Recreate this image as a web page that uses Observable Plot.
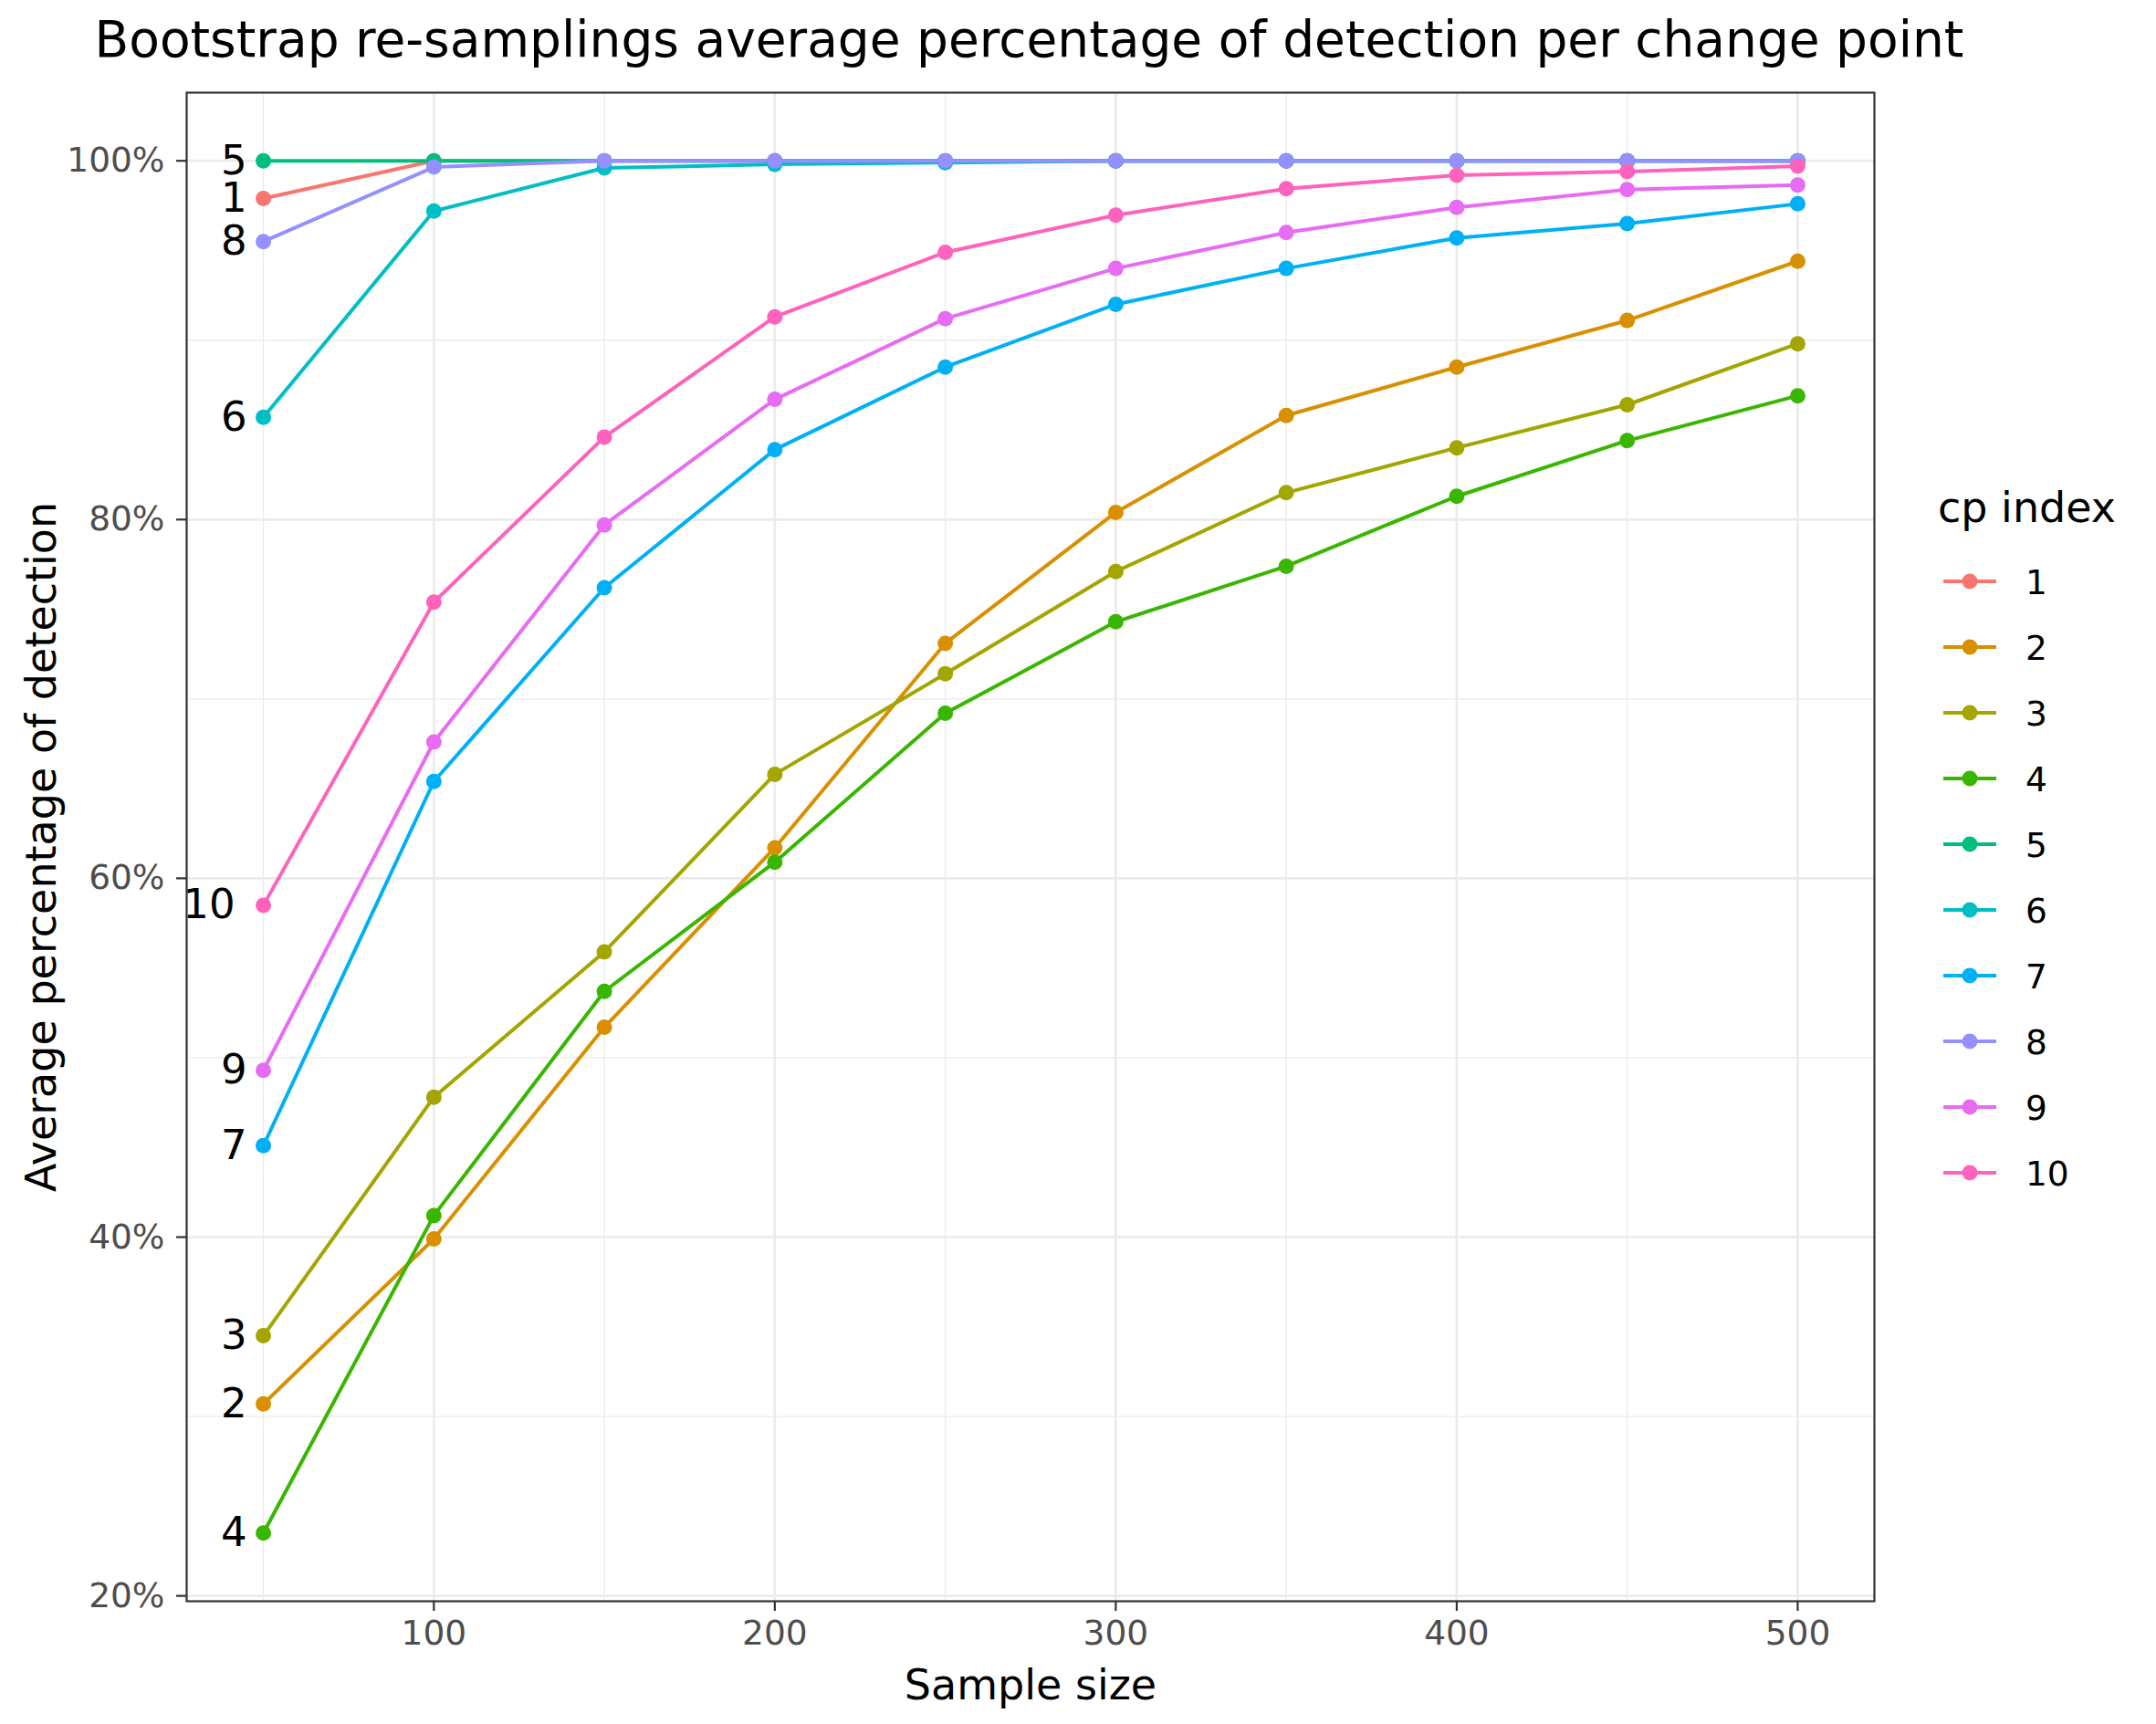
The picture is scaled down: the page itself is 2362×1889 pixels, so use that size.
<!DOCTYPE html>
<html>
<head>
<meta charset="utf-8">
<script src="https://cdn.jsdelivr.net/npm/d3@7"></script>
<script src="https://cdn.jsdelivr.net/npm/@observablehq/plot@0.6"></script>
<style>
  body { margin: 0; background: #ffffff; font-family: "DejaVu Sans", sans-serif; }
  #wrap { position: relative; width: 2362px; height: 1889px; overflow: hidden; }
  #legend { position: absolute; left: 2100px; top: 500px; }
</style>
</head>
<body>
<div id="wrap"></div>
<script>
// ---- data ----
const sampleSizes = [50, 100, 150, 200, 250, 300, 350, 400, 450, 500];
const cpIndex = ["1", "2", "3", "4", "5", "6", "7", "8", "9", "10"];
const cp1  = [97.9, 100, 100, 100, 100, 100, 100, 100, 100, 100];
const cp2  = [30.7, 39.9, 51.7, 61.7, 73.1, 80.4, 85.8, 88.5, 91.1, 94.4];
const cp3  = [34.5, 47.8, 55.9, 65.8, 71.4, 77.1, 81.5, 84.0, 86.4, 89.8];
const cp4  = [23.5, 41.2, 53.7, 60.9, 69.2, 74.3, 77.4, 81.3, 84.4, 86.9];
const cp5  = [100, 100, 100, 100, 100, 100, 100, 100, 100, 100];
const cp6  = [85.7, 97.2, 99.6, 99.8, 99.9, 100, 100, 100, 100, 100];
const cp7  = [45.1, 65.4, 76.2, 83.9, 88.5, 92.0, 94.0, 95.7, 96.5, 97.6];
const cp8  = [95.5, 99.65, 100, 100, 100, 100, 100, 100, 100, 100];
const cp9  = [49.3, 67.6, 79.7, 86.7, 91.2, 94.0, 96.0, 97.4, 98.4, 98.65];
const cp10 = [58.5, 75.4, 84.6, 91.3, 94.9, 96.97, 98.45, 99.2, 99.4, 99.7];

const xTicks = [100, 200, 300, 400, 500];
const xMinorTicks = [50, 150, 250, 350, 450];
const yTicks = [20, 40, 60, 80, 100];
const yMinorTicks = [30, 50, 70, 90];
const palette = ["#F8766D", "#D89000", "#A3A500", "#39B600", "#00BF7D",
                 "#00BFC4", "#00B0F6", "#9590FF", "#E76BF3", "#FF62BC"];

const titleText = "Bootstrap re-samplings average percentage of detection per change point";
const xTitle = "Sample size";
const yTitle = "Average percentage of detection";
const legendTitle = "cp index";

// ---- build table ----
const series = [cp1, cp2, cp3, cp4, cp5, cp6, cp7, cp8, cp9, cp10];
const data = series.flatMap((vals, k) =>
  vals.map((v, i) => ({cp: cpIndex[k], n: sampleSizes[i], pct: v})));
const firstPts = data.filter(d => d.n === sampleSizes[0]);
const labelsShort = firstPts.filter(d => d.cp.length === 1);
const labelsLong = firstPts.filter(d => d.cp.length > 1);

const font = "DejaVu Sans";
const gridColor = "#EBEBEB";

const chart = Plot.plot({
  width: 2362,
  height: 1889,
  marginLeft: 204,
  marginRight: 309,
  marginTop: 101,
  marginBottom: 135,
  style: {fontFamily: font, background: "white", overflow: "visible"},
  x: {domain: [27.5, 522.5]},
  y: {domain: [19.7, 103.8]},
  color: {domain: cpIndex, range: palette},
  marks: [
    Plot.gridX(xMinorTicks, {stroke: gridColor, strokeOpacity: 1, strokeWidth: 1.3}),
    Plot.gridY(yMinorTicks, {stroke: gridColor, strokeOpacity: 1, strokeWidth: 1.3}),
    Plot.gridX(xTicks, {stroke: gridColor, strokeOpacity: 1, strokeWidth: 2.7}),
    Plot.gridY(yTicks, {stroke: gridColor, strokeOpacity: 1, strokeWidth: 2.7}),
    Plot.line(data, {x: "n", y: "pct", z: "cp", stroke: "cp", strokeWidth: 4, curve: "linear"}),
    Plot.dot(data, {x: "n", y: "pct", fill: "cp", r: 8.5}),
    Plot.text(labelsShort, {x: "n", y: "pct", text: "cp", textAnchor: "end", dx: -18,
      fontSize: 45, fill: "black", lineAnchor: "middle"}),
    Plot.text(labelsLong, {x: "n", y: "pct", text: "cp", textAnchor: "end", dx: -31,
      fontSize: 45, fill: "black", lineAnchor: "middle"}),
    Plot.frame({stroke: "#333333", strokeWidth: 2.2}),
    Plot.axisX(xTicks, {label: null, tickSize: 11, tickPadding: 10, fontSize: 37.5,
      stroke: "#333333", strokeWidth: 2.2, fill: "#4D4D4D"}),
    Plot.axisY(yTicks, {label: null, tickSize: 11, tickPadding: 13, fontSize: 37.5,
      tickFormat: d => d + "%", stroke: "#333333", strokeWidth: 2.2, fill: "#4D4D4D"}),
    Plot.text([titleText], {frameAnchor: "top-left", textAnchor: "start", dx: -101, dy: -57,
      fontSize: 55, fill: "black", lineAnchor: "middle"}),
    Plot.text([xTitle], {frameAnchor: "bottom", textAnchor: "middle", dy: 93, fontSize: 46,
      fill: "black", lineAnchor: "middle"}),
    Plot.text([yTitle], {frameAnchor: "left", textAnchor: "middle", dx: -158, rotate: -90,
      fontSize: 46, fill: "black", lineAnchor: "middle"})
  ]
});
document.getElementById("wrap").appendChild(chart);

// ---- legend ----
const leg = d3.create("svg")
  .attr("id", "legend")
  .attr("width", 262)
  .attr("height", 900)
  .style("font-family", font);
leg.append("text").attr("x", 23).attr("y", 72).attr("font-size", 46).attr("fill", "black")
  .text(legendTitle);
const rows = leg.selectAll("g.row").data(cpIndex).join("g")
  .attr("class", "row")
  .attr("transform", (d, i) => `translate(0,${137 + 72 * i})`);
rows.append("line").attr("x1", 29).attr("x2", 87).attr("y1", 0).attr("y2", 0)
  .attr("stroke", (d, i) => palette[i]).attr("stroke-width", 4);
rows.append("circle").attr("cx", 58).attr("cy", 0).attr("r", 8.5)
  .attr("fill", (d, i) => palette[i]);
rows.append("text").attr("x", 119).attr("y", 0).attr("dy", "0.36em")
  .attr("font-size", 37.5).attr("fill", "black").text(d => d);
document.getElementById("wrap").appendChild(leg.node());
</script>
</body>
</html>
